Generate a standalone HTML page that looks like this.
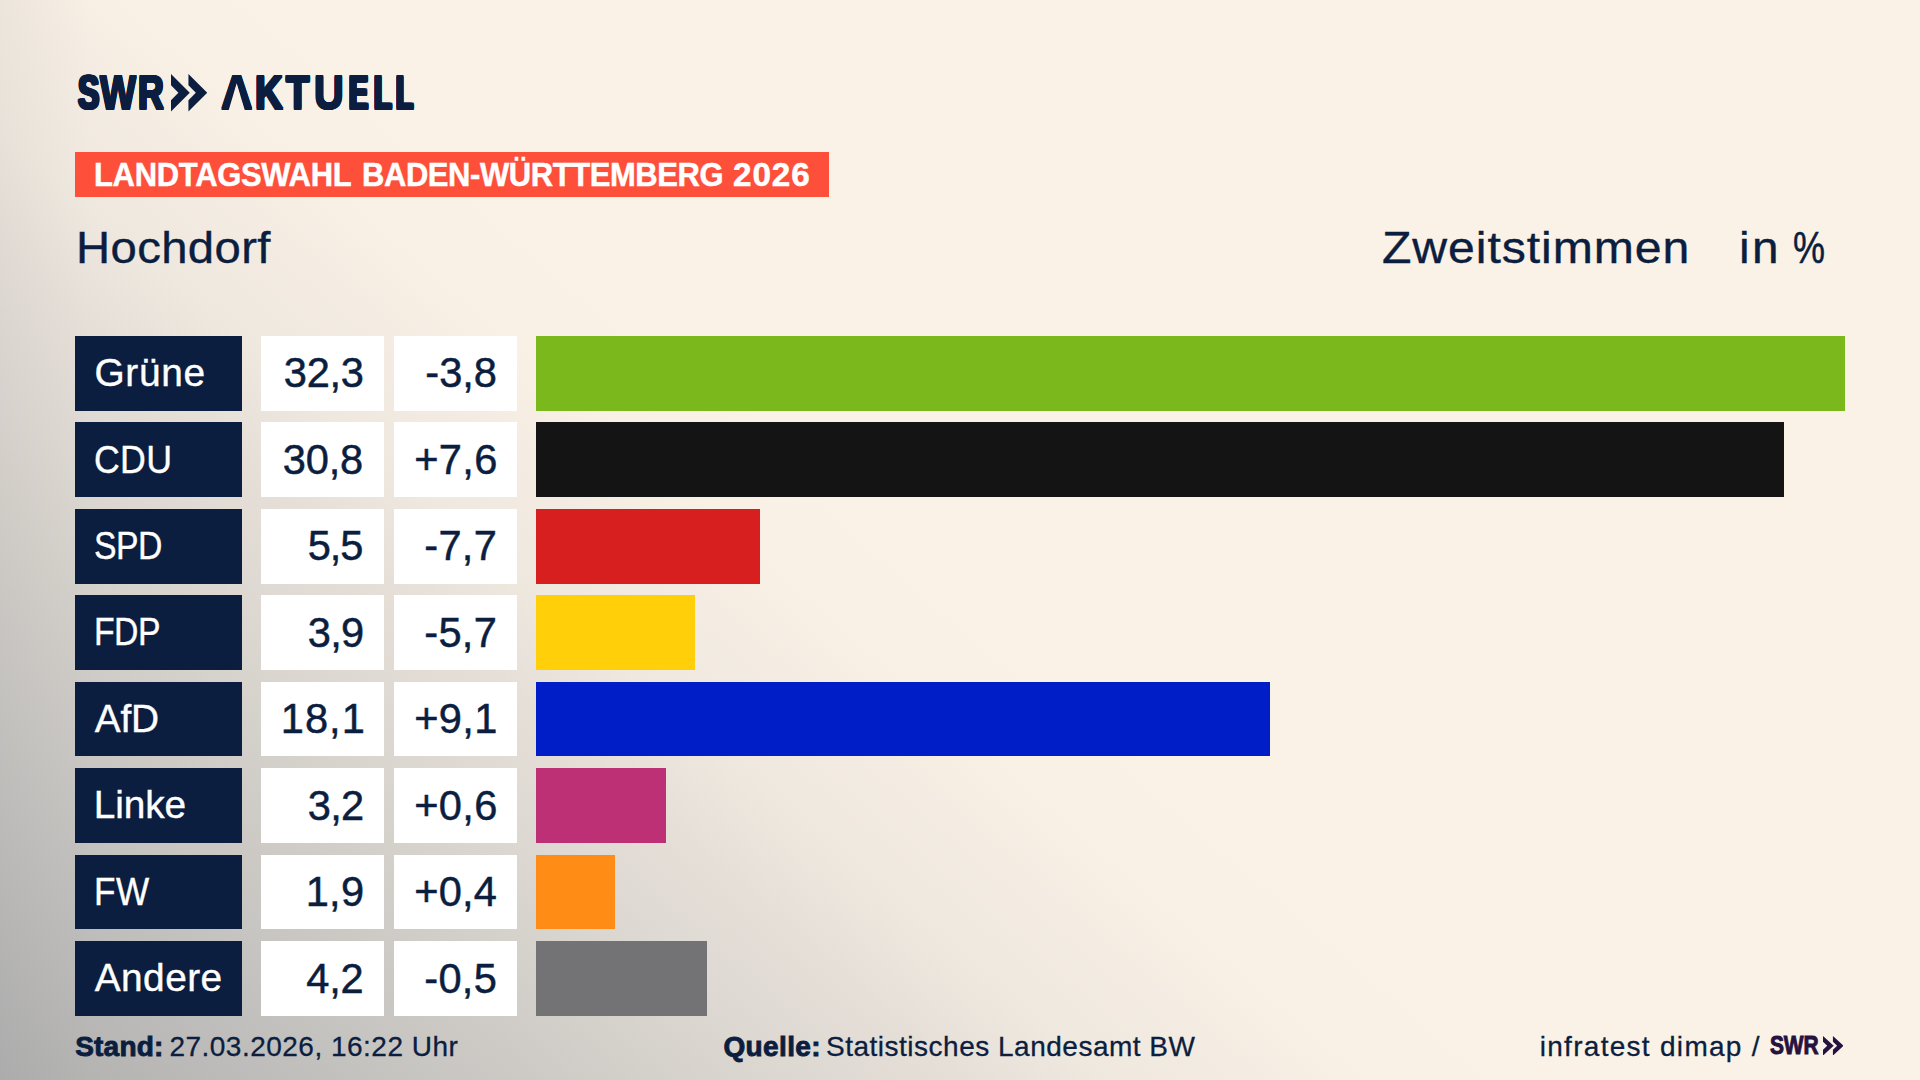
<!DOCTYPE html>
<html lang="de">
<head>
<meta charset="utf-8">
<title>Landtagswahl Baden-Württemberg 2026 – Hochdorf</title>
<style>
html,body{margin:0;padding:0;}
body{width:1920px;height:1080px;overflow:hidden;position:relative;
  font-family:"Liberation Sans",sans-serif;color:#0b1e40;
  background:linear-gradient(90deg, rgba(120,120,125,.06) 0px, rgba(120,120,125,0) 90px),linear-gradient(40.8deg, rgb(175,175,175) 0px, rgb(197,195,192) 250px, rgb(213,209,203) 440px, rgb(221,216,210) 525px, rgb(230,223,216) 628px, rgb(239,232,223) 719px, rgb(244,236,226) 817px, rgb(249,241,229) 900px, rgb(250,242,230) 1000px);}
.t{position:absolute;display:block;white-space:nowrap;line-height:1;transform-origin:0 0;font-weight:normal;}
.box{position:absolute;display:block;}
header,h1,h2,p,section,footer,.row,.grp{margin:0;padding:0;font:inherit;position:static;display:block;}
.lab{background:#0b1e40;left:75px;width:167px;height:74.7px;}
.val{background:#fff;left:261px;width:122.8px;height:74.7px;}
.del{background:#fff;left:394.2px;width:122.8px;height:74.7px;}
.bar{left:536px;height:74.7px;}
.banner{left:75px;top:152px;width:753.8px;height:44.7px;background:#fe4f3b;}
.noA{clip-path:polygon(-10px -10px,60px -10px,60px 60px,29.2px 50px,25.9px 40px,17.3px 14px,8.8px 40px,5.5px 50px,-10px 60px);}
</style>
</head>
<body>
<header class="logo" aria-label="SWR Aktuell">
<span class="word"><span class="t" id="sw0" style="left:77.50px;top:69.17px;font-size:48px;letter-spacing:0.000px;font-weight:bold;transform:scaleX(0.6646);text-shadow:1.80px 0.00px 0 #0b1e40,-1.80px 0.00px 0 #0b1e40,0.00px 1.00px 0 #0b1e40,0.00px -1.00px 0 #0b1e40,1.80px 1.00px 0 #0b1e40,-1.80px 1.00px 0 #0b1e40,1.80px -1.00px 0 #0b1e40,-1.80px -1.00px 0 #0b1e40,0.90px 1.00px 0 #0b1e40,-0.90px 1.00px 0 #0b1e40,0.90px -1.00px 0 #0b1e40,-0.90px -1.00px 0 #0b1e40;">S</span><span class="t" id="sw1" style="left:100.00px;top:69.17px;font-size:48px;letter-spacing:0.000px;font-weight:bold;transform:scaleX(0.7927);text-shadow:1.00px 0.00px 0 #0b1e40,-1.00px 0.00px 0 #0b1e40,0.00px 1.00px 0 #0b1e40,0.00px -1.00px 0 #0b1e40,1.00px 1.00px 0 #0b1e40,-1.00px 1.00px 0 #0b1e40,1.00px -1.00px 0 #0b1e40,-1.00px -1.00px 0 #0b1e40,0.50px 1.00px 0 #0b1e40,-0.50px 1.00px 0 #0b1e40,0.50px -1.00px 0 #0b1e40,-0.50px -1.00px 0 #0b1e40;">W</span><span class="t" id="sw2" style="left:138.00px;top:69.17px;font-size:48px;letter-spacing:0.000px;font-weight:bold;transform:scaleX(0.7422);text-shadow:1.50px 0.00px 0 #0b1e40,-1.50px 0.00px 0 #0b1e40,0.00px 1.00px 0 #0b1e40,0.00px -1.00px 0 #0b1e40,1.50px 1.00px 0 #0b1e40,-1.50px 1.00px 0 #0b1e40,1.50px -1.00px 0 #0b1e40,-1.50px -1.00px 0 #0b1e40,0.75px 1.00px 0 #0b1e40,-0.75px 1.00px 0 #0b1e40,0.75px -1.00px 0 #0b1e40,-0.75px -1.00px 0 #0b1e40;">R</span></span>
<svg class="box" style="left:171.1px;top:74px" width="36.2" height="37.5" viewBox="0 0 36.2 37.5" preserveAspectRatio="none"><path d="M0 0L18.75 18.75 0 37.5V26.3L7.4 18.75 0 11.2z" fill="#0b1e40"/><path d="M17.45 0L36.2 18.75 17.45 37.5V26.3L24.85 18.75 17.45 11.2z" fill="#0b1e40"/></svg>
<span class="word"><span class="t noA" id="ak0" style="left:220.50px;top:69.17px;font-size:48px;letter-spacing:0.000px;font-weight:bold;transform:scaleX(0.9063);text-shadow:0.70px 0.00px 0 #0b1e40,-0.70px 0.00px 0 #0b1e40,0.00px 1.00px 0 #0b1e40,0.00px -1.00px 0 #0b1e40,0.70px 1.00px 0 #0b1e40,-0.70px 1.00px 0 #0b1e40,0.70px -1.00px 0 #0b1e40,-0.70px -1.00px 0 #0b1e40,0.35px 1.00px 0 #0b1e40,-0.35px 1.00px 0 #0b1e40,0.35px -1.00px 0 #0b1e40,-0.35px -1.00px 0 #0b1e40;">A</span><span class="t" id="ak1" style="left:255.00px;top:69.17px;font-size:48px;letter-spacing:0.000px;font-weight:bold;transform:scaleX(0.8005);text-shadow:1.20px 0.00px 0 #0b1e40,-1.20px 0.00px 0 #0b1e40,0.00px 1.00px 0 #0b1e40,0.00px -1.00px 0 #0b1e40,1.20px 1.00px 0 #0b1e40,-1.20px 1.00px 0 #0b1e40,1.20px -1.00px 0 #0b1e40,-1.20px -1.00px 0 #0b1e40,0.60px 1.00px 0 #0b1e40,-0.60px 1.00px 0 #0b1e40,0.60px -1.00px 0 #0b1e40,-0.60px -1.00px 0 #0b1e40;">K</span><span class="t" id="ak2" style="left:285.50px;top:69.17px;font-size:48px;letter-spacing:0.000px;font-weight:bold;transform:scaleX(0.7947);text-shadow:1.20px 0.00px 0 #0b1e40,-1.20px 0.00px 0 #0b1e40,0.00px 1.00px 0 #0b1e40,0.00px -1.00px 0 #0b1e40,1.20px 1.00px 0 #0b1e40,-1.20px 1.00px 0 #0b1e40,1.20px -1.00px 0 #0b1e40,-1.20px -1.00px 0 #0b1e40,0.60px 1.00px 0 #0b1e40,-0.60px 1.00px 0 #0b1e40,0.60px -1.00px 0 #0b1e40,-0.60px -1.00px 0 #0b1e40;">T</span><span class="t" id="ak3" style="left:314.00px;top:69.17px;font-size:48px;letter-spacing:0.000px;font-weight:bold;transform:scaleX(0.8562);text-shadow:0.80px 0.00px 0 #0b1e40,-0.80px 0.00px 0 #0b1e40,0.00px 1.00px 0 #0b1e40,0.00px -1.00px 0 #0b1e40,0.80px 1.00px 0 #0b1e40,-0.80px 1.00px 0 #0b1e40,0.80px -1.00px 0 #0b1e40,-0.80px -1.00px 0 #0b1e40,0.40px 1.00px 0 #0b1e40,-0.40px 1.00px 0 #0b1e40,0.40px -1.00px 0 #0b1e40,-0.40px -1.00px 0 #0b1e40;">U</span><span class="t" id="ak4" style="left:349.00px;top:69.17px;font-size:48px;letter-spacing:0.000px;font-weight:bold;transform:scaleX(0.5950);text-shadow:2.60px 0.00px 0 #0b1e40,-2.60px 0.00px 0 #0b1e40,0.00px 1.00px 0 #0b1e40,0.00px -1.00px 0 #0b1e40,2.60px 1.00px 0 #0b1e40,-2.60px 1.00px 0 #0b1e40,2.60px -1.00px 0 #0b1e40,-2.60px -1.00px 0 #0b1e40,1.30px 1.00px 0 #0b1e40,-1.30px 1.00px 0 #0b1e40,1.30px -1.00px 0 #0b1e40,-1.30px -1.00px 0 #0b1e40;">E</span><span class="t" id="ak5" style="left:373.50px;top:69.17px;font-size:48px;letter-spacing:0.000px;font-weight:bold;transform:scaleX(0.6017);text-shadow:2.60px 0.00px 0 #0b1e40,-2.60px 0.00px 0 #0b1e40,0.00px 1.00px 0 #0b1e40,0.00px -1.00px 0 #0b1e40,2.60px 1.00px 0 #0b1e40,-2.60px 1.00px 0 #0b1e40,2.60px -1.00px 0 #0b1e40,-2.60px -1.00px 0 #0b1e40,1.30px 1.00px 0 #0b1e40,-1.30px 1.00px 0 #0b1e40,1.30px -1.00px 0 #0b1e40,-1.30px -1.00px 0 #0b1e40;">L</span><span class="t" id="ak6" style="left:396.00px;top:69.17px;font-size:48px;letter-spacing:0.000px;font-weight:bold;transform:scaleX(0.5845);text-shadow:2.60px 0.00px 0 #0b1e40,-2.60px 0.00px 0 #0b1e40,0.00px 1.00px 0 #0b1e40,0.00px -1.00px 0 #0b1e40,2.60px 1.00px 0 #0b1e40,-2.60px 1.00px 0 #0b1e40,2.60px -1.00px 0 #0b1e40,-2.60px -1.00px 0 #0b1e40,1.30px 1.00px 0 #0b1e40,-1.30px 1.00px 0 #0b1e40,1.30px -1.00px 0 #0b1e40,-1.30px -1.00px 0 #0b1e40;">L</span></span>
</header>
<h1 class="grp"><span class="box banner"></span>
<span class="t" id="ban1" style="left:93.60px;top:157.51px;font-size:33.3px;letter-spacing:-0.319px;font-weight:bold;color:#fff;transform:scaleX(0.9300);-webkit-text-stroke:0.5px #fff;">LANDTAGSWAHL</span> <span class="t" id="ban2" style="left:362.40px;top:157.51px;font-size:33.3px;letter-spacing:-0.438px;font-weight:bold;color:#fff;transform:scaleX(0.9300);-webkit-text-stroke:0.5px #fff;">BADEN-WÜRTTEMBERG</span> <span class="t" id="ban3" style="left:733.00px;top:157.51px;font-size:33.3px;letter-spacing:0.900px;font-weight:bold;color:#fff;-webkit-text-stroke:0.5px #fff;">2026</span>
</h1>
<h2 class="grp"><span class="t" id="ort" style="left:76.20px;top:225.21px;font-size:45px;letter-spacing:0.367px;transform:scaleX(1.0500);-webkit-text-stroke:0.4px #0b1e40;">Hochdorf</span></h2>
<p class="grp"><span class="t" id="zw" style="left:1382.25px;top:225.21px;font-size:45px;letter-spacing:0.879px;transform:scaleX(1.0700);-webkit-text-stroke:0.4px #0b1e40;">Zweitstimmen</span> <span class="t" id="inp1" style="left:1739.00px;top:225.21px;font-size:45px;letter-spacing:2.335px;transform:scaleX(1.0600);-webkit-text-stroke:0.4px #0b1e40;">in</span> <span class="t" id="inp2" style="left:1792.50px;top:225.21px;font-size:45px;letter-spacing:14.062px;transform:scaleX(0.8000);-webkit-text-stroke:0.5px #0b1e40;">%</span></p>
<section class="chart">
<div class="row"><span class="box lab" style="top:336.00px"></span><span class="t" id="l0" style="left:94.50px;top:354.46px;font-size:38.8px;letter-spacing:0.675px;color:#fff;-webkit-text-stroke:0.4px #fff;">Grüne</span> <span class="box val" style="top:336.00px"></span><span class="t" id="v0" style="left:283.80px;top:352.29px;font-size:41.6px;letter-spacing:-0.300px;-webkit-text-stroke:0.5px #0b1e40;">32,3</span> <span class="box del" style="top:336.00px"></span><span class="t" id="d0" style="left:425.30px;top:352.29px;font-size:41.6px;letter-spacing:-0.000px;-webkit-text-stroke:0.5px #0b1e40;">-3,8</span> <span class="box bar" style="top:336.00px;width:1309px;background:#7ab81c"></span></div>
<div class="row"><span class="box lab" style="top:422.43px"></span><span class="t" id="l1" style="left:93.50px;top:440.89px;font-size:38.8px;letter-spacing:0.311px;color:#fff;transform:scaleX(0.9200);-webkit-text-stroke:0.4px #fff;">CDU</span> <span class="box val" style="top:422.43px"></span><span class="t" id="v1" style="left:282.75px;top:438.72px;font-size:41.6px;letter-spacing:-0.150px;-webkit-text-stroke:0.5px #0b1e40;">30,8</span> <span class="box del" style="top:422.43px"></span><span class="t" id="d1" style="left:414.25px;top:438.72px;font-size:41.6px;letter-spacing:0.300px;-webkit-text-stroke:0.5px #0b1e40;">+7,6</span> <span class="box bar" style="top:422.43px;width:1248px;background:#141414"></span></div>
<div class="row"><span class="box lab" style="top:508.86px"></span><span class="t" id="l2" style="left:94.00px;top:527.32px;font-size:38.8px;letter-spacing:-0.623px;color:#fff;transform:scaleX(0.8700);-webkit-text-stroke:0.4px #fff;">SPD</span> <span class="box val" style="top:508.86px"></span><span class="t" id="v2" style="left:307.75px;top:525.15px;font-size:41.6px;letter-spacing:-1.125px;-webkit-text-stroke:0.5px #0b1e40;">5,5</span> <span class="box del" style="top:508.86px"></span><span class="t" id="d2" style="left:424.25px;top:525.15px;font-size:41.6px;letter-spacing:0.300px;-webkit-text-stroke:0.5px #0b1e40;">-7,7</span> <span class="box bar" style="top:508.86px;width:223.5px;background:#d71f1f"></span></div>
<div class="row"><span class="box lab" style="top:595.29px"></span><span class="t" id="l3" style="left:93.75px;top:612.75px;font-size:38.8px;letter-spacing:-0.623px;color:#fff;transform:scaleX(0.8700);-webkit-text-stroke:0.4px #fff;">FDP</span> <span class="box val" style="top:595.29px"></span><span class="t" id="v3" style="left:307.75px;top:611.58px;font-size:41.6px;letter-spacing:-0.675px;-webkit-text-stroke:0.5px #0b1e40;">3,9</span> <span class="box del" style="top:595.29px"></span><span class="t" id="d3" style="left:424.25px;top:611.58px;font-size:41.6px;letter-spacing:0.300px;-webkit-text-stroke:0.5px #0b1e40;">-5,7</span> <span class="box bar" style="top:595.29px;width:159px;background:#ffcf0a"></span></div>
<div class="row"><span class="box lab" style="top:681.72px"></span><span class="t" id="l4" style="left:94.75px;top:700.18px;font-size:38.8px;letter-spacing:-0.225px;color:#fff;-webkit-text-stroke:0.4px #fff;">AfD</span> <span class="box val" style="top:681.72px"></span><span class="t" id="v4" style="left:280.75px;top:698.01px;font-size:41.6px;letter-spacing:1.050px;-webkit-text-stroke:0.5px #0b1e40;">18,1</span> <span class="box del" style="top:681.72px"></span><span class="t" id="d4" style="left:414.25px;top:698.01px;font-size:41.6px;letter-spacing:0.300px;-webkit-text-stroke:0.5px #0b1e40;">+9,1</span> <span class="box bar" style="top:681.72px;width:734px;background:#001ec8"></span></div>
<div class="row"><span class="box lab" style="top:768.15px"></span><span class="t" id="l5" style="left:93.75px;top:785.61px;font-size:38.8px;letter-spacing:-0.112px;color:#fff;-webkit-text-stroke:0.4px #fff;">Linke</span> <span class="box val" style="top:768.15px"></span><span class="t" id="v5" style="left:307.75px;top:785.44px;font-size:41.6px;letter-spacing:-0.675px;-webkit-text-stroke:0.5px #0b1e40;">3,2</span> <span class="box del" style="top:768.15px"></span><span class="t" id="d5" style="left:414.25px;top:785.44px;font-size:41.6px;letter-spacing:0.300px;-webkit-text-stroke:0.5px #0b1e40;">+0,6</span> <span class="box bar" style="top:768.15px;width:129.7px;background:#be3075"></span></div>
<div class="row"><span class="box lab" style="top:854.58px"></span><span class="t" id="l6" style="left:93.75px;top:873.04px;font-size:38.8px;letter-spacing:0.644px;color:#fff;transform:scaleX(0.9050);-webkit-text-stroke:0.4px #fff;">FW</span> <span class="box val" style="top:854.58px"></span><span class="t" id="v6" style="left:305.75px;top:870.87px;font-size:41.6px;letter-spacing:0.225px;-webkit-text-stroke:0.5px #0b1e40;">1,9</span> <span class="box del" style="top:854.58px"></span><span class="t" id="d6" style="left:414.25px;top:870.87px;font-size:41.6px;letter-spacing:0.150px;-webkit-text-stroke:0.5px #0b1e40;">+0,4</span> <span class="box bar" style="top:854.58px;width:78.7px;background:#ff8c14"></span></div>
<div class="row"><span class="box lab" style="top:941.01px"></span><span class="t" id="l7" style="left:94.75px;top:959.47px;font-size:38.8px;letter-spacing:0.450px;color:#fff;-webkit-text-stroke:0.4px #fff;">Andere</span> <span class="box val" style="top:941.01px"></span><span class="t" id="v7" style="left:306.25px;top:958.30px;font-size:41.6px;letter-spacing:-0.225px;-webkit-text-stroke:0.5px #0b1e40;">4,2</span> <span class="box del" style="top:941.01px"></span><span class="t" id="d7" style="left:424.25px;top:958.30px;font-size:41.6px;letter-spacing:0.300px;-webkit-text-stroke:0.5px #0b1e40;">-0,5</span> <span class="box bar" style="top:941.01px;width:171px;background:#737375"></span></div>
</section>
<footer class="grp">
<p class="grp"><b class="t" id="f1a" style="left:75.20px;top:1032.60px;font-size:28px;letter-spacing:0.216px;font-weight:bold;-webkit-text-stroke:0.9px #0b1e40;">Stand:</b> <span class="t" id="f1b" style="left:169.40px;top:1032.60px;font-size:28px;letter-spacing:0.490px;-webkit-text-stroke:0.3px #0b1e40;">27.03.2026, 16:22 Uhr</span></p>
<p class="grp"><b class="t" id="f2a" style="left:723.40px;top:1032.60px;font-size:28px;letter-spacing:0.375px;font-weight:bold;-webkit-text-stroke:0.9px #0b1e40;">Quelle:</b> <span class="t" id="f2b" style="left:826.00px;top:1032.60px;font-size:28px;letter-spacing:0.504px;-webkit-text-stroke:0.3px #0b1e40;">Statistisches Landesamt BW</span></p>
<p class="grp"><span class="t" id="f3" style="left:1539.70px;top:1032.60px;font-size:28px;letter-spacing:1.294px;-webkit-text-stroke:0.3px #0b1e40;">infratest dimap /</span> <span class="t" id="f4" style="left:1769.80px;top:1033.41px;font-size:25.2px;letter-spacing:-0.137px;font-weight:bold;color:#26123f;transform:scaleX(0.8300);-webkit-text-stroke:1.0px #26123f;">SWR</span><svg class="box" style="left:1822.6px;top:1035.6px" width="20.6" height="19.6" viewBox="0 0 36.2 37.5" preserveAspectRatio="none"><path d="M0 0L18.75 18.75 0 37.5V26.3L7.4 18.75 0 11.2z" fill="#26123f"/><path d="M17.45 0L36.2 18.75 17.45 37.5V26.3L24.85 18.75 17.45 11.2z" fill="#26123f"/></svg></p>
</footer>
</body>
</html>
